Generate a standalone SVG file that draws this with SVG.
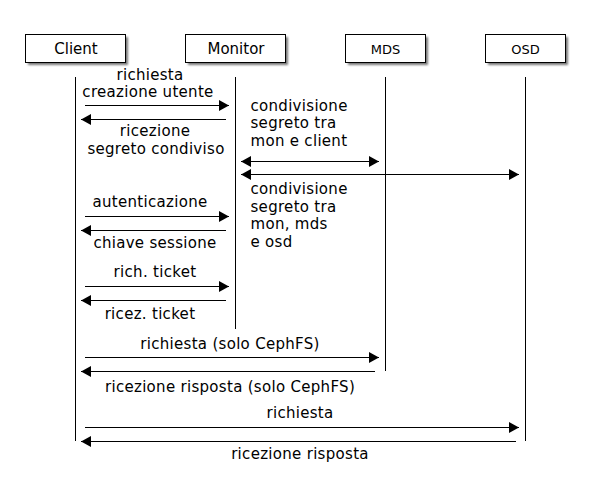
<svg xmlns="http://www.w3.org/2000/svg" width="590" height="490" viewBox="0 0 590 490">
<defs>
<filter id="sh" x="-10%" y="-20%" width="130%" height="160%">
<feGaussianBlur stdDeviation="1.2"/>
</filter>
<marker id="ah" markerUnits="userSpaceOnUse" markerWidth="10" markerHeight="11" viewBox="0 0 10 11" refX="10" refY="5.5" orient="auto-start-reverse">
<path d="M0,0 L10,5.5 L0,11 Z" fill="#000"/>
</marker>
</defs>
<style>
.box{fill:#fff;stroke:#000;stroke-width:1}
.shadow{fill:#777;filter:url(#sh)}
.life{stroke:#000;stroke-width:1;fill:none}
.msg{stroke:#000;stroke-width:1;fill:none;marker-end:url(#ah)}
.both{stroke:#000;stroke-width:1;fill:none;marker-end:url(#ah);marker-start:url(#ah)}
text{font-family:"DejaVu Sans","Liberation Sans",sans-serif;fill:#000}
.lbl{font-size:15px;letter-spacing:0.3px;text-anchor:middle}
.lbl-l{font-size:15px;letter-spacing:0.3px}
.t1{font-size:15px;text-anchor:middle}
.t2{font-size:13px;text-anchor:middle}
</style>
<rect width="590" height="490" fill="#fff"/>

<g id="client">
<rect class="shadow" x="28" y="37" width="100" height="28"/>
<rect class="box" x="25.5" y="34.5" width="100" height="28"/>
<text class="t1" x="76" y="54">Client</text>
</g>
<g id="monitor">
<rect class="shadow" x="188" y="37" width="100" height="28"/>
<rect class="box" x="185.5" y="34.5" width="100" height="28"/>
<text class="t1" x="236" y="54">Monitor</text>
</g>
<g id="mds">
<rect class="shadow" x="348" y="37" width="80" height="28"/>
<rect class="box" x="345.5" y="34.5" width="80" height="28"/>
<text class="t2" x="385.5" y="54">MDS</text>
</g>
<g id="osd">
<rect class="shadow" x="488" y="37" width="80" height="28"/>
<rect class="box" x="485.5" y="34.5" width="80" height="28"/>
<text class="t2" x="525.5" y="54">OSD</text>
</g>

<g id="lifelines">
<line class="life" x1="75.5" y1="77" x2="75.5" y2="441"/>
<line class="life" x1="235.5" y1="77" x2="235.5" y2="329"/>
<line class="life" x1="385.5" y1="77" x2="385.5" y2="371"/>
<line class="life" x1="525.5" y1="77" x2="525.5" y2="441"/>
</g>

<g id="connectors">
<line class="msg" x1="85" y1="105.5" x2="229" y2="105.5"/>
<line class="msg" x1="226" y1="119.5" x2="81" y2="119.5"/>
<line class="both" x1="241" y1="161.5" x2="379" y2="161.5"/>
<line class="both" x1="241" y1="174.5" x2="519" y2="174.5"/>
<line class="msg" x1="85" y1="216.5" x2="229" y2="216.5"/>
<line class="msg" x1="226" y1="230.5" x2="81" y2="230.5"/>
<line class="msg" x1="85" y1="286.5" x2="229" y2="286.5"/>
<line class="msg" x1="226" y1="300.5" x2="81" y2="300.5"/>
<line class="msg" x1="85" y1="357.5" x2="379" y2="357.5"/>
<line class="msg" x1="375" y1="371.5" x2="81" y2="371.5"/>
<line class="msg" x1="85" y1="427.5" x2="519" y2="427.5"/>
<line class="msg" x1="516" y1="441.5" x2="81" y2="441.5"/>
</g>

<g id="labels">
<text class="lbl"><tspan x="150" y="79.5">richiesta</tspan><tspan x="148" y="97">creazione utente</tspan></text>
<text class="lbl"><tspan x="155" y="136">ricezione</tspan><tspan x="156" y="153.5">segreto condiviso</tspan></text>
<text class="lbl-l"><tspan x="250.5" y="110.5">condivisione</tspan><tspan x="250.5" y="128">segreto tra</tspan><tspan x="250.5" y="145.5">mon e client</tspan></text>
<text class="lbl-l"><tspan x="250.5" y="194">condivisione</tspan><tspan x="250.5" y="211.5">segreto tra</tspan><tspan x="250.5" y="229">mon, mds</tspan><tspan x="250.5" y="246.5">e osd</tspan></text>
<text class="lbl" x="150" y="207">autenticazione</text>
<text class="lbl" x="155" y="248">chiave sessione</text>
<text class="lbl" x="155" y="277">rich. ticket</text>
<text class="lbl" x="150" y="319">ricez. ticket</text>
<text class="lbl" x="230" y="349">richiesta (solo CephFS)</text>
<text class="lbl" x="230" y="392">ricezione risposta (solo CephFS)</text>
<text class="lbl" x="300" y="418">richiesta</text>
<text class="lbl" x="300" y="459">ricezione risposta</text>
</g>
</svg>
